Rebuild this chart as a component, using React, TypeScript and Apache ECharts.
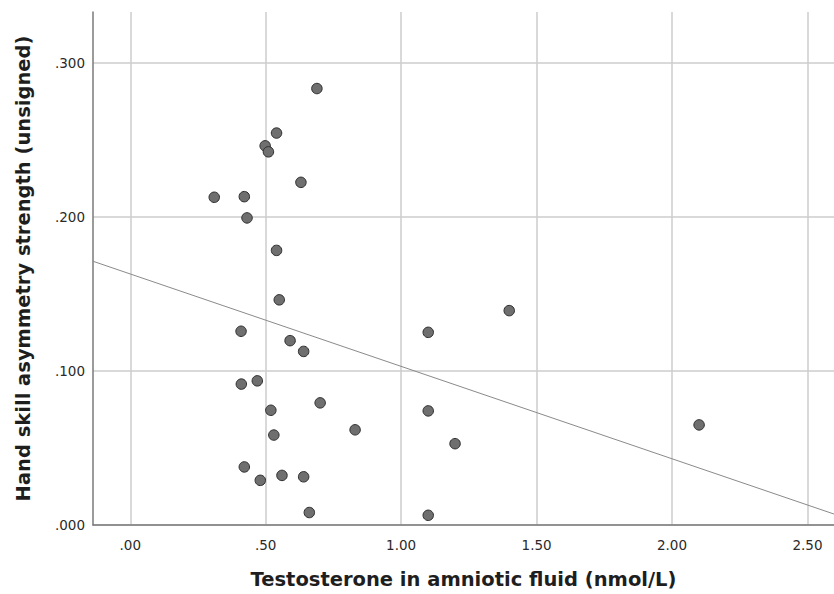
import React, { useEffect, useRef } from "react";
import * as echarts from "echarts";

const testosterone = [
  0.689, 0.540, 0.498, 0.510, 0.630, 0.310, 0.421, 0.431, 0.540, 0.550,
  1.399, 0.409, 1.100, 0.590, 0.640, 0.469, 0.410, 0.701, 0.519, 1.100,
  0.830, 0.530, 1.199, 2.100, 0.421, 0.560, 0.480, 0.640, 0.661, 1.100,
];
const asymmetry = [
  0.2834, 0.2545, 0.2462, 0.2423, 0.2225, 0.2128, 0.2132, 0.1994, 0.1783, 0.1462,
  0.1392, 0.1258, 0.1251, 0.1197, 0.1127, 0.0936, 0.0915, 0.0793, 0.0745, 0.0741,
  0.0618, 0.0584, 0.0528, 0.0650, 0.0377, 0.0322, 0.0290, 0.0313, 0.0081, 0.0063,
];

const fitIntercept = 0.163;
const fitSlope = -0.06;
const fitX = [-0.1376, 2.598];

const xTicks = [0, 0.5, 1.0, 1.5, 2.0, 2.5];
const yTicks = [0, 0.1, 0.2, 0.3];

const xTitle = "Testosterone in amniotic fluid (nmol/L)";
const yTitle = "Hand skill asymmetry strength (unsigned)";

const stripZero = (s: string) => (s.startsWith("0") ? s.slice(1) : s);

export default function App() {
  const ref = useRef<HTMLDivElement>(null);
  useEffect(() => {
    if (!ref.current) return;
    const chart = echarts.init(ref.current, null, { renderer: "svg" });
    const points = testosterone.map((x, i) => [x, asymmetry[i]]);
    const fitLine = fitX.map((x) => [x, fitIntercept + fitSlope * x]);
    const font = "'DejaVu Sans', sans-serif";
    chart.setOption({
      animation: false,
      backgroundColor: "#ffffff",
      grid: { left: 93, top: 12, right: 0, bottom: 66, containLabel: false },
      xAxis: {
        type: "value",
        min: fitX[0],
        max: fitX[1],
        name: xTitle,
        nameLocation: "middle",
        nameGap: 44,
        nameTextStyle: { fontFamily: font, fontSize: 19.5, fontWeight: "bold", color: "#1e1e1e" },
        axisLine: { show: true, onZero: false, lineStyle: { color: "#7a7a7a", width: 1.5 } },
        axisTick: { show: false, customValues: xTicks },
        axisLabel: {
          customValues: xTicks,
          margin: 13,
          fontFamily: font,
          fontSize: 13.5,
          color: "#2a2a2a",
          formatter: (v: number) => stripZero(v.toFixed(2)),
        },
        splitLine: { show: true, lineStyle: { color: "#cccccc", width: 1.5 } },
      },
      yAxis: {
        type: "value",
        min: 0,
        max: 0.3331,
        name: yTitle,
        nameLocation: "middle",
        nameGap: 60,
        nameTextStyle: { fontFamily: font, fontSize: 19.5, fontWeight: "bold", color: "#1e1e1e" },
        axisLine: { show: true, onZero: false, lineStyle: { color: "#7a7a7a", width: 1.5 } },
        axisTick: { show: false, customValues: yTicks },
        axisLabel: {
          customValues: yTicks,
          margin: 8,
          fontFamily: font,
          fontSize: 13.5,
          color: "#2a2a2a",
          formatter: (v: number) => stripZero(v.toFixed(3)),
        },
        splitLine: { show: true, lineStyle: { color: "#cccccc", width: 1.5 } },
      },
      series: [
        {
          type: "line",
          data: fitLine,
          symbol: "none",
          lineStyle: { color: "#8a8a8a", width: 1 },
          silent: true,
          z: 2,
        },
        {
          type: "scatter",
          data: points,
          symbolSize: 10.5,
          itemStyle: { color: "#6f6f6f", borderColor: "#2e2e2e", borderWidth: 1, opacity: 1 },
          z: 3,
        },
      ],
    });
    return () => chart.dispose();
  }, []);
  return (
    <div
      ref={ref}
      style={{ position: "absolute", left: 0, top: 0, width: 834, height: 594 }}
    />
  );
}
